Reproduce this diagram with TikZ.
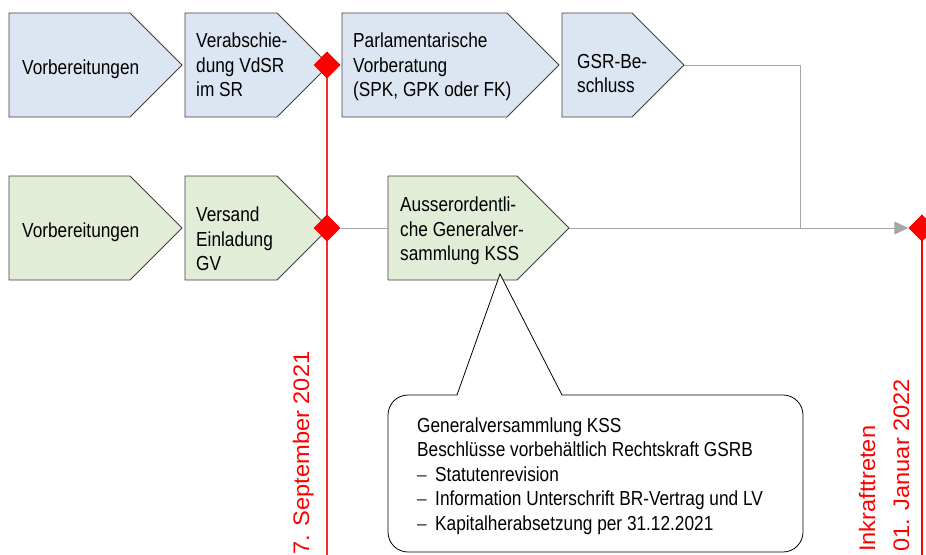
\documentclass[tikz,border=0pt]{standalone}
\usepackage{fontspec}
\setmainfont{Liberation Sans}[FakeStretch=0.85]
\newfontfamily\datefont{Liberation Sans}[FakeStretch=1.05]
\usetikzlibrary{shapes.geometric,arrows.meta}
\definecolor{boxblue}{HTML}{DCE6F2}
\definecolor{boxgreen}{HTML}{E2EDD7}
\definecolor{boxline}{HTML}{404040}
\definecolor{connline}{HTML}{A6A6A6}
\definecolor{dateline}{HTML}{F03030}
\tikzset{
  chevron/.style={draw=boxline, line width=0.8pt},
  boxtext/.style={inner sep=0pt, align=left, anchor=west, font=\fontsize{20.3}{24.5}\selectfont},
  milestone/.style={diamond, fill=red, draw=none, inner sep=0pt, minimum width=27pt, minimum height=27pt},
  conn/.style={draw=connline, line width=1pt},
  redline/.style={draw=dateline, line width=1.2pt},
  datetext/.style={text=red, inner sep=0pt, rotate=90, anchor=base west, font=\datefont\fontsize{22.5}{26}\selectfont},
  callout/.style={draw=black, line width=0.8pt, fill=white}
}
\begin{document}
\begin{tikzpicture}[x=1pt, y=-1pt]
\clip (0,0) rectangle (926,554);
\fill[white] (0,0) rectangle (926,554);

% red date lines
\coordinate (l1end) at (327,560);
\coordinate (l2end) at (922,560);
\node[milestone] (d1) at (327,65) {};
\node[milestone] (d2) at (327,228) {};
\node[milestone] (d3) at (922,228) {};
\draw[redline] (d1.center) -- (l1end);
\draw[redline, draw=red] (d3.center) -- (l2end);

% top row chevrons
\fill[boxblue] (9,13) -- (130,13) -- (182,65) -- (130,117) -- (9,117) -- cycle;
\draw[chevron] (9,13) -- (130,13) -- (182,65) -- (130,117) -- (9,117) -- cycle;
\fill[boxblue] (185,13) -- (277,13) -- (329,65) -- (277,117) -- (185,117) -- cycle;
\draw[chevron] (185,13) -- (277,13) -- (329,65) -- (277,117) -- (185,117) -- cycle;
\fill[boxblue] (342,13) -- (507,13) -- (559,65) -- (507,117) -- (342,117) -- cycle;
\draw[chevron] (342,13) -- (507,13) -- (559,65) -- (507,117) -- (342,117) -- cycle;
\fill[boxblue] (562,13) -- (632,13) -- (684,65) -- (632,117) -- (562,117) -- cycle;
\draw[chevron] (562,13) -- (632,13) -- (684,65) -- (632,117) -- (562,117) -- cycle;

% bottom row chevrons
\fill[boxgreen] (9,176) -- (130,176) -- (182,228) -- (130,280) -- (9,280) -- cycle;
\draw[chevron] (9,176) -- (130,176) -- (182,228) -- (130,280) -- (9,280) -- cycle;
\fill[boxgreen] (185,176) -- (277,176) -- (329,228) -- (277,280) -- (185,280) -- cycle;
\draw[chevron] (185,176) -- (277,176) -- (329,228) -- (277,280) -- (185,280) -- cycle;
\fill[boxgreen] (388,176) -- (517,176) -- (569,228) -- (517,280) -- (388,280) -- cycle;
\draw[chevron] (388,176) -- (517,176) -- (569,228) -- (517,280) -- (388,280) -- cycle;

% connector anchor points
\coordinate (b4tip) at (684,65);
\coordinate (join) at (800,228);
\coordinate (c3west) at (388,228);
\coordinate (c3tip) at (569,228);
\coordinate (c3bottom) at (500,274);

% connectors
\draw[conn] (b4tip) -| (join);
\draw[conn] (d2.east) -- (c3west);
\draw[conn, -{Triangle[length=14pt, width=13pt]}] (c3tip) -- (d3.west);

% milestones on top
\node[milestone] at (d1) {};
\node[milestone] at (d2) {};
\node[milestone] at (d3) {};

% box texts
\node[boxtext, anchor=base west] (t1) at (22,74) {Vorbereitungen};
\node[boxtext] (t2) at (196,65) {Verabschie-\\dung VdSR\\im SR};
\node[boxtext] (t3) at (353,67) {Parlamentarische\\Vorberatung\\(SPK, GPK oder FK)};
\node[boxtext] (t4) at (577,73.5) {GSR-Be-\\schluss};
\node[boxtext, anchor=base west] (u1) at (22,237) {Vorbereitungen};
\node[boxtext] (u2) at (196,239) {Versand\\Einladung\\GV};
\node[boxtext] (u3) at (400,231) {Ausserordentli-\\che Generalver-\\sammlung KSS};

% callout
\draw[callout] (457,395) -- (c3bottom) -- (562,395) -- (783,395)
  arc[start angle=-90, end angle=0, radius=20] -- (803,532)
  arc[start angle=0, end angle=90, radius=20] -- (408,552)
  arc[start angle=90, end angle=180, radius=20] -- (388,415)
  arc[start angle=180, end angle=270, radius=20] -- cycle;
\node[boxtext] (note) at (417,476) {Generalversammlung KSS\\
Beschlüsse vorbehältlich Rechtskraft GSRB\\
\makebox[18pt][l]{\color{black!75}–}Statutenrevision\\
\makebox[18pt][l]{\color{black!75}–}Information Unterschrift BR-Vertrag und LV\\
\makebox[18pt][l]{\color{black!75}–}Kapitalherabsetzung per 31.12.2021};

% date labels
\node[datetext] (date1) at (309,555) {7. September 2021};
\node[datetext] (date2a) at (875,552) {Inkrafttreten};
\node[datetext] (date2b) at (909,552) {01. Januar 2022};
\end{tikzpicture}
\end{document}
